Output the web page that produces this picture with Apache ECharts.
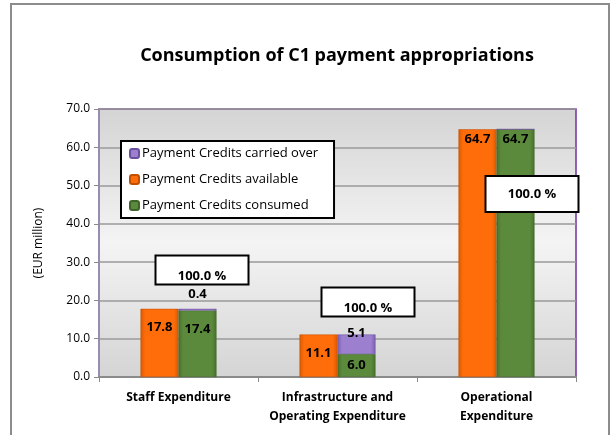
<!DOCTYPE html>
<html><head><meta charset="utf-8">
<script src="https://cdn.jsdelivr.net/npm/echarts@6/dist/echarts.min.js"></script>
<style>html,body{margin:0;padding:0;background:#fff}#c{width:612px;height:435px}</style>
</head><body><div id="c"></div>
<script>
const categories = ['Staff Expenditure', 'Infrastructure and\nOperating Expenditure', 'Operational\nExpenditure'];
const available = [17.8, 11.1, 64.7];
const consumed = [17.4, 6.0, 64.7];
const carriedOver = [0.4, 5.1, 0];
const percentLabels = ['100.0 %', '100.0 %', '100.0 %'];
const yTicks = [0, 10, 20, 30, 40, 50, 60, 70];

const FONT = '"Open Sans"';
function grad(dark, light) {
  return new echarts.graphic.LinearGradient(0, 0, 1, 0, [
    {offset: 0, color: dark}, {offset: 0.12, color: light}, {offset: 0.88, color: light}, {offset: 1, color: dark}
  ]);
}
const orange = grad('#d85a00', '#ff6c0a');
const green = grad('#46702c', '#5c8a3c');
const purple = grad('#7a5fae', '#9c80cf');
const lbl = {show: true, color: '#000', fontWeight: 'bold', fontSize: 13, fontFamily: FONT,
  textBorderWidth: 0, formatter: p => p.value ? p.value.toFixed(1) : ''};

// annotation anchors for the percentage boxes (layout only): [category, y, dx, dy, height]
const boxAnchor = [[0, 27.9, 23, 0, 29], [1, 19.5, 30, 0, 29], [2, 47.7, 35, 0, 36]];

const chart = echarts.init(document.getElementById('c'));
chart.setOption({
  animation: false,
  textStyle: {fontFamily: FONT},
  title: {text: 'Consumption of C1 payment appropriations', left: 332, textAlign: 'center', top: 42,
    textStyle: {fontSize: 18, fontWeight: 'bold', color: '#000', fontFamily: FONT}},
  graphic: [{type: 'rect', shape: {x: 11, y: 4, width: 598, height: 440}, style: {fill: 'none', stroke: '#8c8c8c', lineWidth: 2}, z: 100}],
  legend: {
    data: ['Payment Credits carried over', 'Payment Credits available', 'Payment Credits consumed'],
    orient: 'vertical', left: 121, top: 141, itemWidth: 9, itemHeight: 9, itemGap: 13,
    padding: [6, 16, 6, 8], backgroundColor: '#fff', borderColor: '#000', borderWidth: 2,
    textStyle: {fontSize: 13, color: '#000', fontFamily: FONT, padding: [0, 0, 0, -2]}, z: 20
  },
  grid: {left: 99, right: 36, top: 109, bottom: 58, show: true, borderColor: '#7030a0', borderWidth: 1.5,
    backgroundColor: new echarts.graphic.LinearGradient(0, 0, 0, 1, [
      {offset: 0, color: '#d4d4d4'}, {offset: 0.5, color: '#f4f4f4'}, {offset: 1, color: '#d4d4d4'}])},
  xAxis: {type: 'category', data: categories,
    axisLine: {lineStyle: {color: '#8a8a8a', width: 2}},
    axisTick: {show: true, length: 5, lineStyle: {color: '#8a8a8a'}},
    axisLabel: {interval: 0, color: '#000', fontWeight: 'bold', fontSize: 12, fontFamily: FONT, margin: 11, lineHeight: 19}},
  yAxis: {type: 'value', min: yTicks[0], max: yTicks[yTicks.length - 1], interval: 10,
    name: '(EUR million)', nameLocation: 'middle', nameGap: 54, nameRotate: 90,
    nameTextStyle: {color: '#000', fontSize: 12, fontFamily: FONT},
    axisLine: {show: true, lineStyle: {color: '#9a8cb0', width: 2}},
    axisTick: {show: true, length: 5, lineStyle: {color: '#8a8a8a'}},
    axisLabel: {color: '#000', fontSize: 12, fontFamily: FONT, margin: 9, formatter: v => v.toFixed(1)},
    splitLine: {lineStyle: {color: '#9a9a9a', width: 1.5}}},
  series: [
    {name: 'Payment Credits available', type: 'bar', stack: 'a', barWidth: 38, barGap: '0%',
      itemStyle: {color: orange, borderColor: '#c04f00', borderWidth: 0.5},
      label: Object.assign({}, lbl, {position: 'insideTop', distance: 12}),
      data: available.map((v, i) => i === 2 ? {value: v, label: {distance: 4}} : v)},
    {name: 'Payment Credits consumed', type: 'bar', stack: 'b', barWidth: 38,
      itemStyle: {color: green, borderColor: '#3e6428', borderWidth: 0.5},
      label: Object.assign({}, lbl, {position: 'insideTop', distance: 12}),
      data: consumed.map((v, i) => i === 2 ? {value: v, label: {distance: 4}} : (i === 1 ? {value: v, label: {position: 'inside'}} : v))},
    {name: 'Payment Credits carried over', type: 'bar', stack: 'b', barWidth: 38,
      itemStyle: {color: purple, borderColor: '#6a4f9e', borderWidth: 0.5},
      label: Object.assign({}, lbl, {position: 'insideTop', distance: -8}),
      data: carriedOver.map((v, i) => i === 0 ? {value: v, label: {position: 'top', distance: 8}} : v)},
    {name: 'pct', type: 'custom', z: 10, silent: true,
      data: boxAnchor.map(a => [a[0], a[1]]),
      renderItem: (params, api) => {
        const a = boxAnchor[params.dataIndex];
        const p = api.coord([api.value(0), api.value(1)]);
        const w = 93, h = a[4];
        const cx = Math.round(p[0] + a[2]), cy = Math.round(p[1] + a[3]);
        const textY = a[4] > 30 ? cy : cy + 6;
        return {type: 'group', children: [
          {type: 'rect', shape: {x: cx - w / 2, y: cy - h / 2, width: w, height: h},
            style: {fill: '#fff', stroke: '#000', lineWidth: 2}},
          {type: 'text', x: cx, y: textY, style: {text: percentLabels[params.dataIndex], fill: '#000',
            font: 'bold 13px "Open Sans"', align: 'center', verticalAlign: 'middle'}}
        ]};
      }}
  ]
});
</script></body></html>
